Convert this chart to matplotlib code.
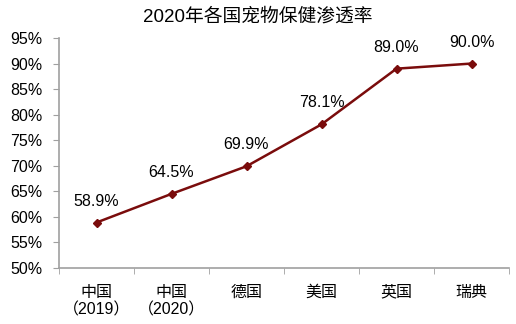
import numpy as np
import matplotlib
matplotlib.use("Agg")
import matplotlib.pyplot as plt
from matplotlib.ticker import FixedLocator

plt.rcParams['font.family'] = ['Liberation Sans', 'Noto Sans CJK SC', 'DejaVu Sans']

categories = ['中国\n（2019）', '中国\n（2020）', '德国', '美国', '英国', '瑞典']
values = [58.9, 64.5, 69.9, 78.1, 89.0, 90.0]
yticks = [50, 55, 60, 65, 70, 75, 80, 85, 90, 95]

line_color = '#7A0C0C'
axis_color = '#A0A0A0'

fig = plt.figure(figsize=(5.16, 3.24), dpi=100)
ax = fig.add_axes([59 / 516, 1 - 268 / 324, 450 / 516, 230 / 324])

x = np.arange(len(categories))
ax.plot(x, values, color=line_color, lw=1.8, marker='D', ms=4,
        markerfacecolor=line_color, markeredgecolor=line_color)

for xi, v in zip(x, values):
    ax.annotate(f'{v:.1f}%', (xi, v), xytext=(0, 10), textcoords='offset points',
                ha='center', va='bottom', fontsize=11.5, color='black')

ax.set_xlim(-0.5, len(categories) - 0.5)
ax.set_ylim(50, 95)
ax.set_yticks(yticks)
ax.set_yticklabels([f'{t}%' for t in yticks], fontsize=11.5)

ax.set_xticks(x)
ax.set_xticklabels(categories, fontsize=11.5, linespacing=1.25)
ax.tick_params(axis='x', which='major', length=0, pad=12)
ax.xaxis.set_minor_locator(FixedLocator(np.arange(-0.5, len(categories), 1)))
ax.tick_params(axis='x', which='minor', length=4, color=axis_color, direction='out')
ax.tick_params(axis='y', length=4, color=axis_color, direction='out', pad=8)

for s in ['top', 'right']:
    ax.spines[s].set_visible(False)
for s in ['left', 'bottom']:
    ax.spines[s].set_color(axis_color)
    ax.spines[s].set_linewidth(1.2)

fig.text(0.5, 1 - 17 / 324, '2020年各国宠物保健渗透率', ha='center', va='center', fontsize=13.5)

fig.savefig('out.png', dpi=100)
